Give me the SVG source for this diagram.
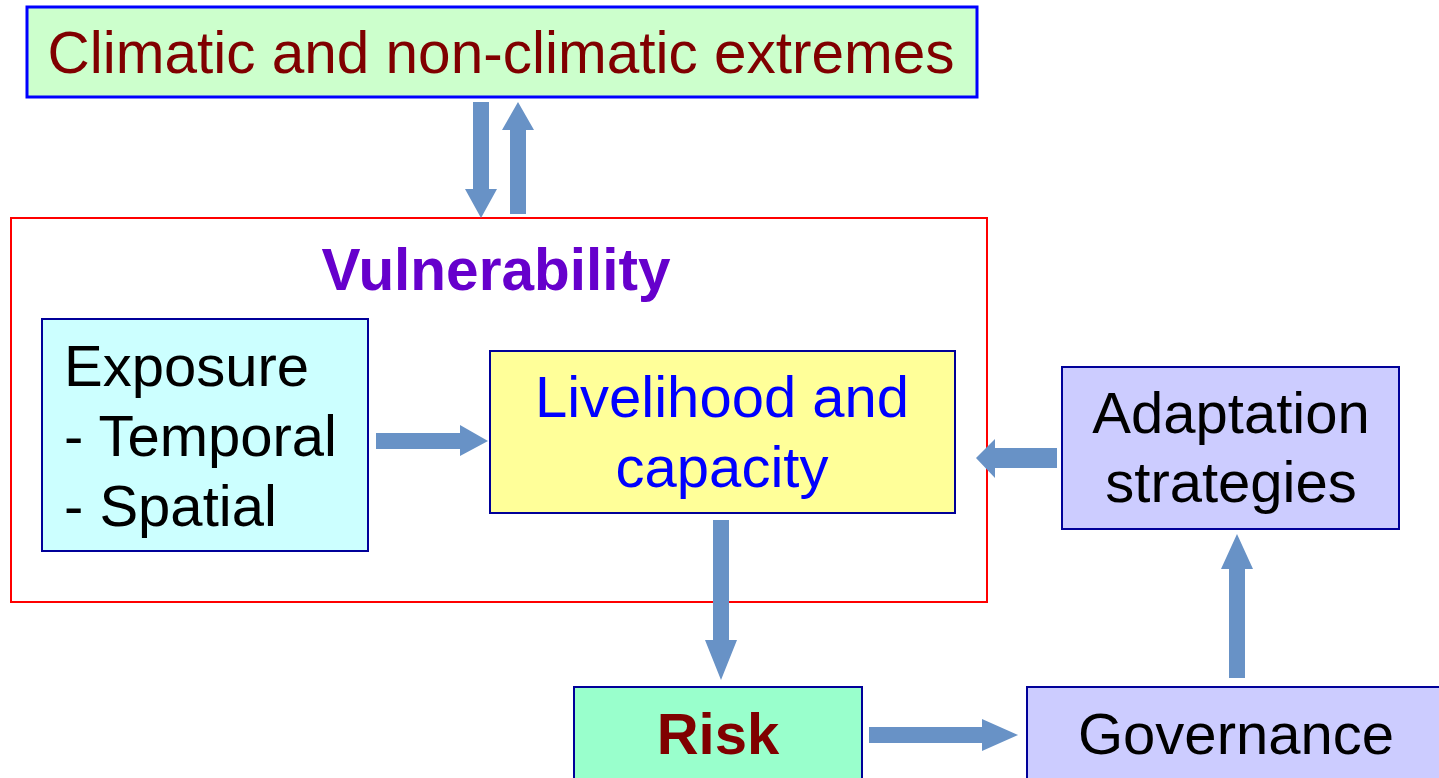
<svg xmlns="http://www.w3.org/2000/svg" width="1439" height="778" viewBox="0 0 1439 778">
<style>
.box{stroke:#000099;stroke-width:2}
.t{font-family:"Liberation Sans",Arial,sans-serif;font-size:58px;text-anchor:middle}
.s{text-anchor:start}
.arr{fill:#6892c6}
</style>
<rect width="1439" height="778" fill="#ffffff"/>
<g id="extremes">
<rect x="27" y="7" width="950" height="90" fill="#ccffcc" stroke="#0000ff" stroke-width="3"/>
<text class="t" x="501" y="73" fill="#800000" style="font-size:58.5px">Climatic and non-climatic extremes</text>
</g>
<g id="vulnerability">
<rect x="11" y="218" width="976" height="384" fill="none" stroke="#ff0000" stroke-width="2"/>
<text class="t" x="496" y="290" fill="#6600cc" font-weight="bold" style="font-size:58.5px">Vulnerability</text>
</g>
<g id="exposure">
<rect class="box" x="42" y="319" width="326" height="232" fill="#ccffff"/>
<text class="t s" x="64" y="386" fill="#000000">Exposure</text>
<text class="t s" x="64" y="456" fill="#000000">- Temporal</text>
<text class="t s" x="64" y="526" fill="#000000">- Spatial</text>
</g>
<g id="livelihood">
<rect class="box" x="490" y="351" width="465" height="162" fill="#ffff99"/>
<text class="t" x="722" y="417" fill="#0000ff">Livelihood and</text>
<text class="t" x="722" y="487" fill="#0000ff">capacity</text>
</g>
<g id="adaptation">
<rect class="box" x="1062" y="367" width="337" height="162" fill="#ccccff"/>
<text class="t" x="1231" y="433" fill="#000000">Adaptation</text>
<text class="t" x="1231" y="502" fill="#000000">strategies</text>
</g>
<g id="risk">
<rect class="box" x="574" y="687" width="288" height="100" fill="#99ffcc"/>
<text class="t" x="718" y="754" fill="#800000" font-weight="bold">Risk</text>
</g>
<g id="governance">
<rect class="box" x="1027" y="687" width="420" height="100" fill="#ccccff"/>
<text class="t" x="1236" y="754" fill="#000000">Governance</text>
</g>
<g id="connectors">
<polygon class="arr" points="473,102 489,102 489,189 497,189 481,218 465,189 473,189"/>
<polygon class="arr" points="510,214 526,214 526,130 534,130 518,102 502,130 510,130"/>
<polygon class="arr" points="376,433 460,433 460,425 488,441 460,456 460,449 376,449"/>
<polygon class="arr" points="1057,448 995,448 995,439 976,458 995,478 995,468 1057,468"/>
<polygon class="arr" points="713,520 729,520 729,640 737,640 721,680 705,640 713,640"/>
<polygon class="arr" points="869,727 982,727 982,719 1018,735 982,751 982,743 869,743"/>
<polygon class="arr" points="1229,678 1245,678 1245,569 1253,569 1237,534 1221,569 1229,569"/>
</g>
</svg>
